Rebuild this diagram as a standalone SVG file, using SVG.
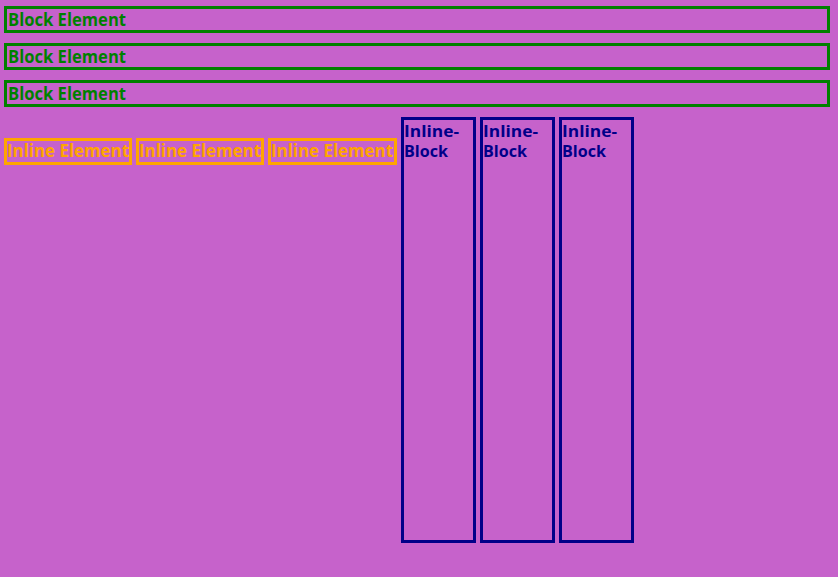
<svg xmlns="http://www.w3.org/2000/svg" width="838" height="577" viewBox="0 0 838 577">
<style>
text { font-family: "Open Sans", "DejaVu Sans", sans-serif; font-size: 17px; font-weight: 700; }
.blk rect { fill: none; stroke: #008000; stroke-width: 3; }
.blk text { fill: #008000; }
.inl rect { fill: none; stroke: #FFA500; stroke-width: 3; }
.inl text { fill: #FFA500; }
.ib rect { fill: none; stroke: #000088; stroke-width: 3; }
.ib text { fill: #000088; font-size: 16.5px; }
</style>
<rect x="0" y="0" width="838" height="577" fill="#C662CB"/>
<g id="block1" class="blk"><rect x="5.5" y="7.5" width="823" height="24"/><text x="8" y="26" textLength="118" lengthAdjust="spacingAndGlyphs">Block Element</text></g>
<g id="block2" class="blk"><rect x="5.5" y="44.5" width="823" height="24"/><text x="8" y="63" textLength="118" lengthAdjust="spacingAndGlyphs">Block Element</text></g>
<g id="block3" class="blk"><rect x="5.5" y="81.5" width="823" height="24"/><text x="8" y="100" textLength="118" lengthAdjust="spacingAndGlyphs">Block Element</text></g>
<g id="inline1" class="inl"><rect x="5.5" y="139.5" width="125" height="24"/><text x="7" y="157" textLength="122" lengthAdjust="spacingAndGlyphs">Inline Element</text></g>
<g id="inline2" class="inl"><rect x="137.5" y="139.5" width="125" height="24"/><text x="139" y="157" textLength="122" lengthAdjust="spacingAndGlyphs">Inline Element</text></g>
<g id="inline3" class="inl"><rect x="269.5" y="139.5" width="126" height="24"/><text x="271" y="157" textLength="122" lengthAdjust="spacingAndGlyphs">Inline Element</text></g>
<g id="inlineblock1" class="ib"><rect x="402.5" y="118.5" width="72" height="423"/><text x="404" y="137" textLength="55" lengthAdjust="spacingAndGlyphs">Inline-</text><text x="404" y="157" textLength="44" lengthAdjust="spacingAndGlyphs">Block</text></g>
<g id="inlineblock2" class="ib"><rect x="481.5" y="118.5" width="72" height="423"/><text x="483" y="137" textLength="55" lengthAdjust="spacingAndGlyphs">Inline-</text><text x="483" y="157" textLength="44" lengthAdjust="spacingAndGlyphs">Block</text></g>
<g id="inlineblock3" class="ib"><rect x="560.5" y="118.5" width="72" height="423"/><text x="562" y="137" textLength="55" lengthAdjust="spacingAndGlyphs">Inline-</text><text x="562" y="157" textLength="44" lengthAdjust="spacingAndGlyphs">Block</text></g>
<g id="connectors"></g>
</svg>
